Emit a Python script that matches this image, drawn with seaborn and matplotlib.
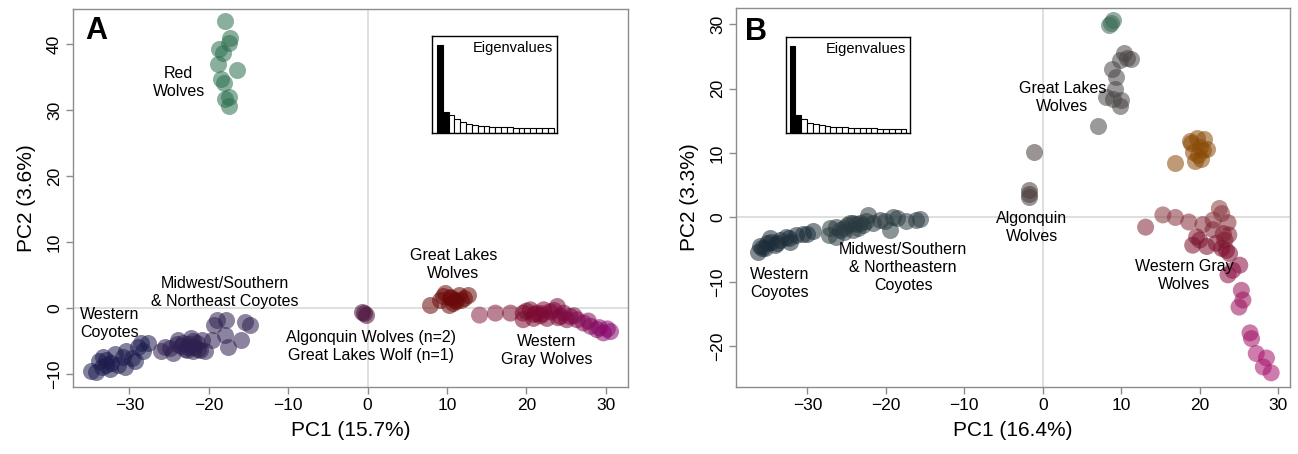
import numpy as np
import pandas as pd
import matplotlib
matplotlib.use("Agg")
import matplotlib.pyplot as plt
import seaborn as sns
from matplotlib.colors import LinearSegmentedColormap

# ---- panel A data ----
redA_x = [-17.9, -17.3, -17.5, -18.7, -18.2, -18.8, -16.4, -18.5, -18.1, -17.5, -17.9, -17.5]
redA_y = [43.5, 40.9, 40.2, 39.2, 38.6, 37.0, 36.0, 34.7, 34.1, 32.0, 31.7, 30.6]

wcoyA_x = [-34.8, -34.2, -33.5, -33.8, -32.9, -32.3, -32.5, -33.3, -31.4, -30.8, -30.6, -30.4,
           -29.7, -28.9, -28.3, -27.6, -29.3, -28.5, -31.8, -33.0]
wcoyA_y = [-9.5, -9.8, -8.9, -8.0, -7.9, -8.4, -9.3, -7.4, -8.6, -7.4, -8.9, -6.6,
           -7.6, -5.9, -6.6, -5.4, -8.1, -5.4, -7.0, -8.6]

mcoyA_x = [-25.5, -26.0, -24.5, -23.9, -23.2, -22.6, -22.2, -21.5, -21.1, -20.5, -22.0, -22.8,
           -20.9, -19.6, -19.4, -19.0, -18.0, -17.6, -17.8, -15.9, -15.4, -14.8, -24.9,
           -22.5, -21.8, -23.0, -22.0, -21.3, -23.5, -24.0]
mcoyA_y = [-5.9, -6.6, -6.9, -4.8, -5.4, -5.9, -4.6, -5.4, -6.4, -6.6, -6.6, -6.4,
           -4.8, -4.8, -2.6, -1.8, -4.1, -5.9, -1.8, -4.8, -2.1, -2.6, -6.1,
           -5.5, -6.0, -6.2, -5.0, -6.2, -5.8, -5.5]

algA_x = [-0.7, -0.2, -0.5]
algA_y = [-0.6, -1.1, -0.8]

glA_x = [7.9, 9.1, 9.8, 10.4, 11.0, 11.5, 12.1, 12.7, 10.2, 10.8, 10.5, 11.2, 9.5, 11.8]
glA_y = [0.45, 1.2, 2.2, 1.7, 1.2, 2.0, 1.5, 2.0, 0.45, 0.7, 1.5, 1.0, 1.8, 1.2]

gwA_x = [14.1, 16.1, 18.0, 19.6, 20.5, 21.3, 22.2, 23.0, 23.9, 24.7, 25.5, 26.4, 27.2, 28.1,
         28.9, 29.7, 30.6, 19.6, 20.9, 22.6, 24.3, 25.1, 20.0, 21.0, 22.0, 23.5, 24.0, 26.0,
         27.8, 29.2, 30.2, 21.8]
gwA_y = [-1.1, -0.8, -0.8, -0.8, -0.3, -0.8, -0.3, -0.6, 0.2, -0.8, -1.3, -1.8, -2.3, -2.8,
         -3.3, -3.8, -3.6, -1.8, -1.6, -1.6, -1.3, -1.8, -0.5, -1.0, -0.9, -0.4, -1.5, -1.2,
         -2.0, -3.0, -3.2, -1.2]

eigA = [265, 63, 53, 43, 33, 27, 23, 21, 20, 19, 18, 17, 17, 16, 16, 15, 15, 15, 14, 14]

# ---- panel B data ----
wcoyB_x = [-36.3, -35.8, -35.2, -34.6, -34.1, -34.8, -33.5, -32.7, -32.2, -31.4, -30.5, -30.1,
           -29.3, -35.4, -33.9, -32.4, -36.0]
wcoyB_y = [-5.3, -4.8, -4.0, -3.8, -4.3, -3.2, -3.5, -3.0, -3.8, -2.7, -2.5, -2.5,
           -2.1, -4.8, -4.0, -3.2, -4.5]

mcoyB_x = [-27.3, -27.1, -26.3, -25.9, -25.4, -25.0, -24.6, -24.2, -23.8, -23.3, -22.9, -22.5,
           -22.3, -21.6, -20.8, -20.1, -19.5, -19.1, -18.6, -17.4, -16.1, -15.7, -26.3, -25.4,
           -24.2, -23.6]
mcoyB_y = [-2.7, -1.7, -1.4, -1.9, -1.7, -1.2, -0.9, -0.8, -1.0, -0.8, -1.2, -0.6,
           0.4, -0.9, -0.4, -0.6, -1.9, 0.1, -0.1, -0.5, -0.4, -0.3, -3.0, -2.2,
           -1.9, -1.7]

algB_x = [-1.7, -1.7, -1.7, -1.15]
algB_y = [4.3, 3.6, 3.1, 10.2]

topB_x = [8.7, 9.0, 8.4]
topB_y = [30.2, 30.6, 29.9]

glB_x = [10.4, 9.8, 11.3, 10.7, 8.8, 9.3, 9.2, 8.0, 9.0, 10.0, 9.8, 7.0]
glB_y = [25.5, 24.5, 24.6, 24.8, 23.0, 21.8, 19.9, 18.7, 18.4, 18.3, 17.3, 14.2]

brB_x = [19.6, 20.6, 18.9, 20.0, 19.1, 20.4, 19.8, 19.4, 20.2, 16.9, 18.7, 20.9]
brB_y = [12.3, 12.1, 11.5, 10.9, 10.2, 10.5, 9.7, 8.7, 9.0, 8.4, 11.8, 10.7]

gwB_x = [13.1, 15.3, 16.9, 18.6, 20.4, 21.7, 22.5, 22.8, 23.6, 19.6, 20.0, 19.1, 20.9, 22.1,
         22.8, 23.4, 23.8, 25.1, 24.2, 23.6, 25.3, 25.5, 25.0, 26.4, 26.6, 27.2, 28.5, 28.1,
         29.1, 21.7, 23.0, 23.7, 23.2]
gwB_y = [-1.5, 0.4, 0.0, -0.7, -1.1, -0.4, 1.4, 0.6, -0.8, -3.0, -3.5, -4.3, -4.5, -4.0,
         -4.8, -5.1, -5.6, -7.4, -8.2, -8.9, -11.3, -12.8, -13.9, -17.9, -18.8, -21.1, -21.8, -23.2,
         -24.1, -1.9, -2.5, -2.7, -3.5]

eigB = [263, 53, 43, 31, 26, 23, 20, 19, 18, 17, 16, 15, 15, 14, 14, 13, 13, 13, 12, 12]

sns.set_style("white")
plt.rcParams["font.family"] = ["Liberation Sans", "DejaVu Sans"]
plt.rcParams["text.color"] = "black"
plt.rcParams["axes.labelcolor"] = "black"

W, H = 1298, 454
fig = plt.figure(figsize=(W / 100, H / 100), dpi=100)
axA = fig.add_axes([73 / W, 1 - 387 / H, 555 / W, 378 / H])
axB = fig.add_axes([736 / W, 1 - 387 / H, 554 / W, 379 / H])

S = 150
AL = 0.55


def pts(ax, x, y, color):
    sns.scatterplot(x=x, y=y, color=color, s=S, alpha=AL, linewidth=0, ax=ax, zorder=3)


def grad(ax, x, y, hue, cmap, norm):
    sns.scatterplot(x=x, y=y, hue=hue, palette=cmap, hue_norm=norm, s=S, alpha=AL,
                    linewidth=0, ax=ax, legend=False, zorder=3)


for ax in (axA, axB):
    ax.axhline(0, color="#d9d9d9", lw=1.2, zorder=0)
    ax.axvline(0, color="#d9d9d9", lw=1.2, zorder=0)

# panel A
pts(axA, redA_x, redA_y, "#2a6e4c")
pts(axA, wcoyA_x, wcoyA_y, "#1c1c4e")
pts(axA, mcoyA_x, mcoyA_y, "#2e2050")
pts(axA, algA_x, algA_y, "#4a1038")
pts(axA, glA_x, glA_y, "#6b0a0a")
cmapA = LinearSegmentedColormap.from_list(
    "gwA", [(0, "#8a2a4a"), (0.35, "#7a0a2a"), (0.7, "#7e0a45"), (1, "#8a0a75")])
grad(axA, gwA_x, gwA_y, gwA_x, cmapA, (13, 31))

# panel B
pts(axB, wcoyB_x, wcoyB_y, "#1b2d38")
pts(axB, mcoyB_x, mcoyB_y, "#2b3a40")
pts(axB, algB_x, algB_y, "#4a3c3c")
pts(axB, topB_x, topB_y, "#3a6a55")
pts(axB, glB_x, glB_y, "#4a4545")
pts(axB, brB_x, brB_y, "#8a4a05")
cmapB = LinearSegmentedColormap.from_list(
    "gwB", [(0, "#a8106e"), (0.48, "#9a1058"), (0.74, "#7a0a2a"), (1, "#8a4040")])
grad(axB, gwB_x, gwB_y, gwB_y, cmapB, (-25, 2))

axA.set_xlim(-37.1, 32.8)
axA.set_ylim(-12.0, 45.3)
axB.set_xlim(-39.1, 31.5)
axB.set_ylim(-26.3, 32.5)
axA.set_yticks([-10, 0, 10, 20, 30, 40])
axB.set_yticks([-20, -10, 0, 10, 20, 30])
for ax in (axA, axB):
    ax.set_xticks([-30, -20, -10, 0, 10, 20, 30])
    for sp in ax.spines.values():
        sp.set_visible(True)
        sp.set_color("#8c8c8c")
        sp.set_linewidth(1.0)
    ax.tick_params(axis="both", length=5, width=1, color="#8c8c8c", labelsize=12.5,
                   labelcolor="black", bottom=True, left=True, pad=3)
    ax.set_xticklabels([f"\u2212{abs(v)}" if v < 0 else str(v) for v in ax.get_xticks()])
    ax.set_yticklabels([f"\u2212{abs(int(v))}" if v < 0 else str(int(v)) for v in ax.get_yticks()],
                       rotation=90, va="center", ha="right")

axA.set_xlabel("PC1 (15.7%)", fontsize=15, labelpad=6)
axA.set_ylabel("PC2 (3.6%)", fontsize=15, labelpad=8)
axB.set_xlabel("PC1 (16.4%)", fontsize=15, labelpad=6)
axB.set_ylabel("PC2 (3.3%)", fontsize=15, labelpad=8)

axA.text(0.041, 0.942, "A", transform=axA.transAxes, fontsize=22, fontweight="bold",
         ha="center", va="center")
axB.text(0.036, 0.937, "B", transform=axB.transAxes, fontsize=22, fontweight="bold",
         ha="center", va="center")

lab = dict(fontsize=11.5, ha="center", va="center", linespacing=1.25, zorder=5)
axA.text(-23.8, 34.1, "Red\nWolves", **lab)
axA.text(-18.0, 2.3, "Midwest/Southern\n& Northeast Coyotes", **lab)
axA.text(-32.5, -2.4, "Western\nCoyotes", **lab)
axA.text(0.4, -5.8, "Algonquin Wolves (n=2)\nGreat Lakes Wolf (n=1)", **lab)
axA.text(10.8, 6.5, "Great Lakes\nWolves", **lab)
axA.text(22.6, -6.5, "Western\nGray Wolves", **lab)

axB.text(2.5, 18.6, "Great Lakes\nWolves", **lab)
axB.text(-1.4, -1.6, "Algonquin\nWolves", **lab)
axB.text(18.0, -9.0, "Western Gray\nWolves", **lab)
axB.text(-33.6, -10.2, "Western\nCoyotes", **lab)
axB.text(-17.8, -7.7, "Midwest/Southern\n& Northeastern\nCoyotes", **lab)


def inset(rect, vals, left_pad):
    ins = fig.add_axes(rect)
    idx = list(range(len(vals)))
    cols = ["black", "black"] + ["white"] * (len(vals) - 2)
    sns.barplot(x=idx, y=vals, hue=idx, palette=cols, edgecolor="black", linewidth=0.8,
                width=1.0, legend=False, ax=ins)
    ins.set_xlim(-0.5 - left_pad, len(vals) - 0.5 + 0.6)
    ins.set_ylim(0, max(vals) * 1.1)
    ins.set_xticks([])
    ins.set_yticks([])
    ins.set_xlabel("")
    ins.set_ylabel("")
    for sp in ins.spines.values():
        sp.set_visible(True)
        sp.set_color("black")
        sp.set_linewidth(1.0)
    ins.text(0.97, 0.95, "Eigenvalues", transform=ins.transAxes, ha="right", va="top",
             fontsize=10.5)
    return ins


inset([432 / W, 1 - 133 / H, 125 / W, 97 / H], eigA, 0.85)
inset([786 / W, 1 - 133 / H, 124 / W, 96 / H], eigB, 0.6)

fig.savefig("out.png", dpi=100)
